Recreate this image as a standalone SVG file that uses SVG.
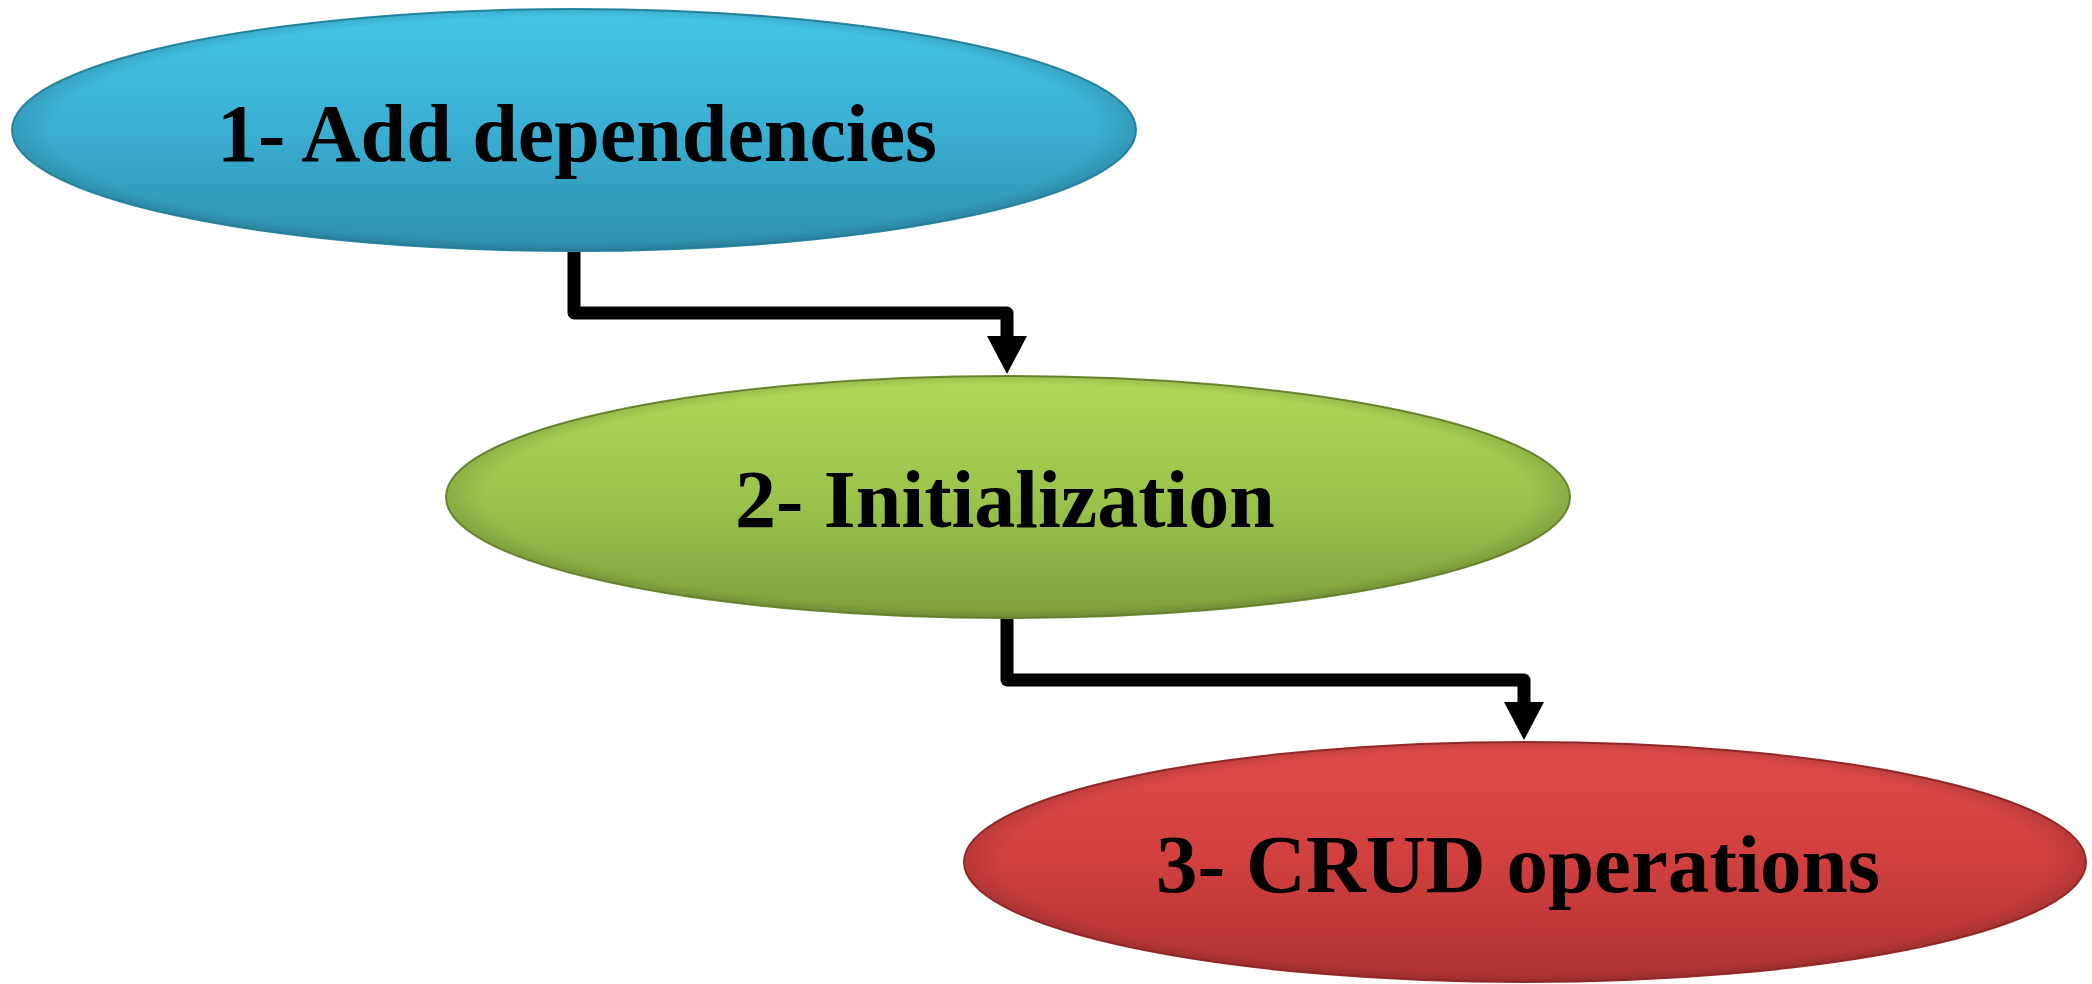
<svg xmlns="http://www.w3.org/2000/svg" width="2092" height="984" viewBox="0 0 2092 984">
  <defs>
    <linearGradient id="gBlue" x1="0" y1="0" x2="0" y2="1">
      <stop offset="0" stop-color="#44C6E8"/>
      <stop offset="0.5" stop-color="#3AAFD3"/>
      <stop offset="1" stop-color="#2E8FAC"/>
    </linearGradient>
    <linearGradient id="gGreen" x1="0" y1="0" x2="0" y2="1">
      <stop offset="0" stop-color="#B0D858"/>
      <stop offset="0.5" stop-color="#9CC44C"/>
      <stop offset="1" stop-color="#7E9E3C"/>
    </linearGradient>
    <linearGradient id="gRed" x1="0" y1="0" x2="0" y2="1">
      <stop offset="0" stop-color="#DE4A4A"/>
      <stop offset="0.5" stop-color="#D13F3F"/>
      <stop offset="1" stop-color="#AC3232"/>
    </linearGradient>
    <radialGradient id="bevel" cx="0.5" cy="0.5" r="0.5">
      <stop offset="0.93" stop-color="#000" stop-opacity="0"/>
      <stop offset="1" stop-color="#000" stop-opacity="0.12"/>
    </radialGradient>
  </defs>
  <style>
    .lbl { font-family: "Liberation Serif", "Times New Roman", serif; font-weight: bold; font-size: 82px; fill: #000; text-anchor: middle; }
    .conn { fill: none; stroke: #000; stroke-width: 13; stroke-linejoin: round; }
    .edge { fill: url(#bevel); }
  </style>
  <rect width="2092" height="984" fill="#FFFFFF"/>

  <g id="connectors">
    <path class="conn" d="M574,251 V313 H1007 V342"/>
    <path d="M987,336 L1027,336 L1007,374 Z" fill="#000"/>
    <path class="conn" d="M1007,618 V680 H1524 V708"/>
    <path d="M1504,702 L1544,702 L1524,740 Z" fill="#000"/>
  </g>

  <g id="node1">
    <ellipse cx="574" cy="130" rx="562" ry="121" fill="url(#gBlue)" stroke="#2A8AA6" stroke-width="2"/>
    <ellipse class="edge" cx="574" cy="130" rx="562" ry="121"/>
    <text class="lbl" x="577" y="161">1- Add dependencies</text>
  </g>

  <g id="node2">
    <ellipse cx="1008" cy="497" rx="562" ry="121" fill="url(#gGreen)" stroke="#6E8C34" stroke-width="2"/>
    <ellipse class="edge" cx="1008" cy="497" rx="562" ry="121"/>
    <text class="lbl" x="1005" y="527">2- Initialization</text>
  </g>

  <g id="node3">
    <ellipse cx="1525" cy="862" rx="561" ry="120" fill="url(#gRed)" stroke="#9A2C2C" stroke-width="2"/>
    <ellipse class="edge" cx="1525" cy="862" rx="561" ry="120"/>
    <text class="lbl" x="1518" y="892" style="font-size:83px">3- CRUD operations</text>
  </g>
</svg>
